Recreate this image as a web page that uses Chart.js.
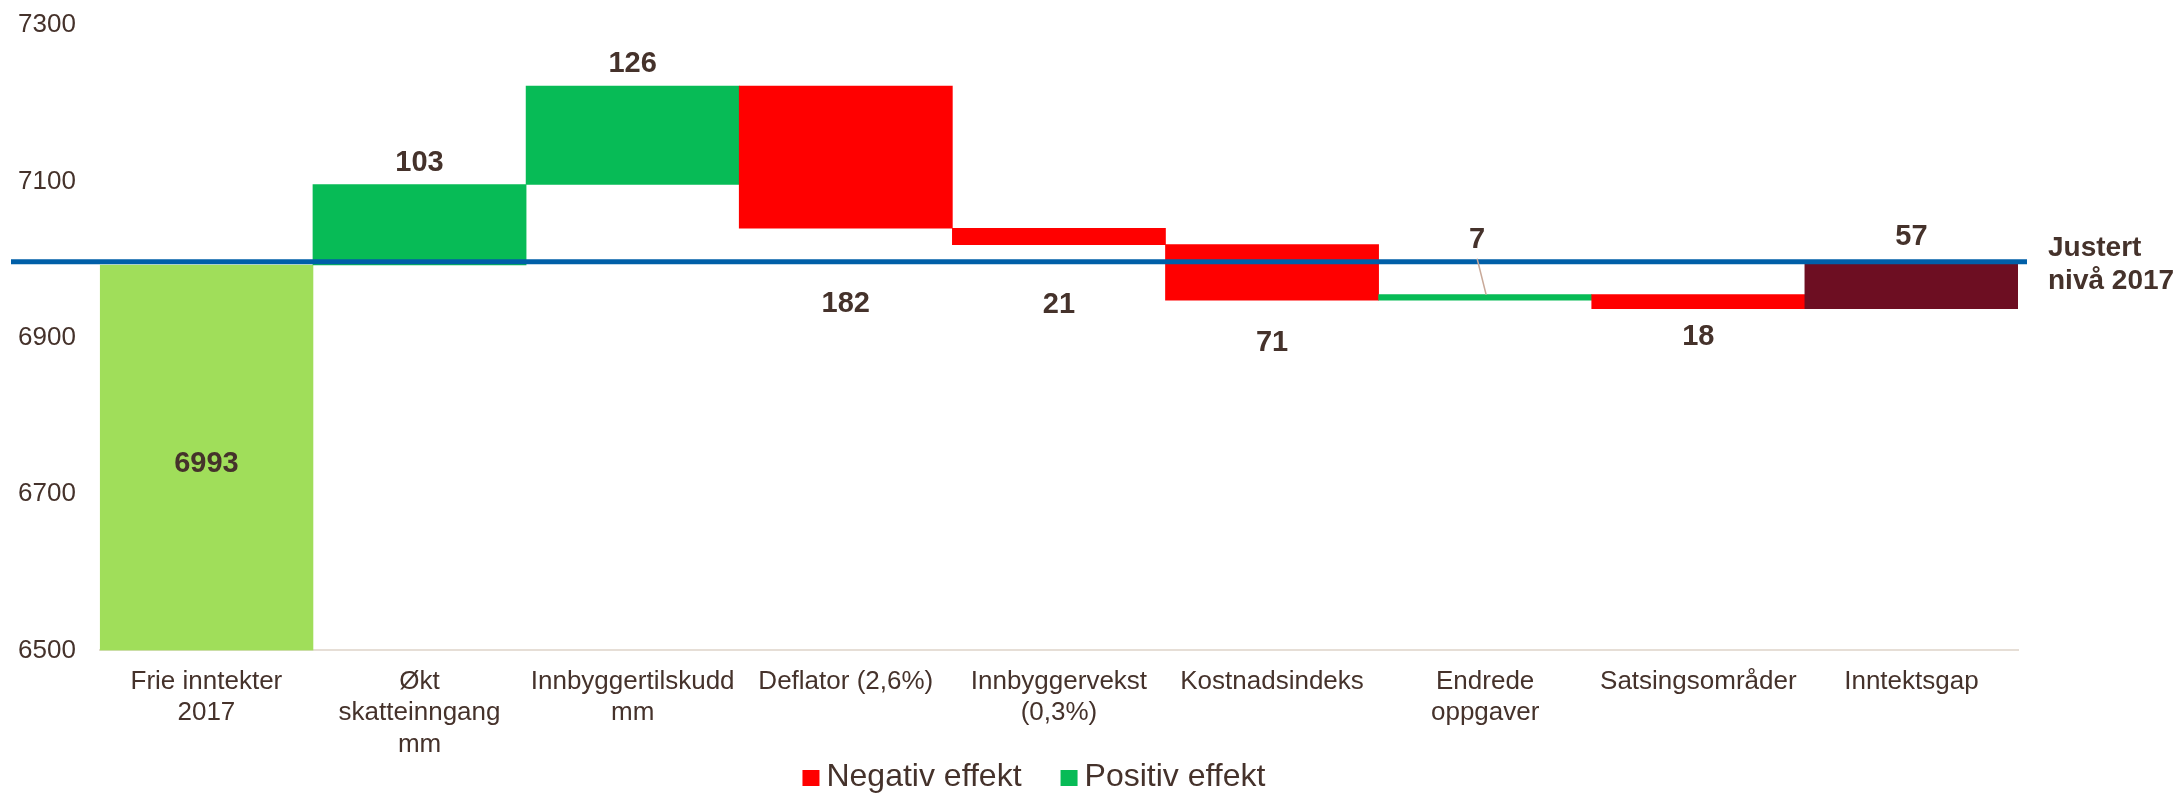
<!DOCTYPE html>
<html><head><meta charset="utf-8">
<script src="https://cdn.jsdelivr.net/npm/chart.js@4.4.1/dist/chart.umd.min.js"></script>
<style>html,body{margin:0;padding:0;background:#fff;}#wrap{width:2184px;height:794px;position:relative;}</style>
</head><body><div id="wrap"><canvas id="c" width="2184" height="794"></canvas></div>
<script>
// ---- data ----
const categories = [["Frie inntekter","2017"],["Økt","skatteinngang","mm"],["Innbyggertilskudd","mm"],"Deflator (2,6%)",["Innbyggervekst","(0,3%)"],"Kostnadsindeks",["Endrede","oppgaver"],"Satsingsområder","Inntektsgap"];
const startValue = 6993;
const changes = [103, 126, -182, -21, -71, 7, -18];
const gapValue = 57;
const adjustedLevel = 6997;
const adjustedLabel = ["Justert", "nivå 2017"];
const yTicks = [6500, 6700, 6900, 7100, 7300];
const legendNames = ["Negativ effekt", "Positiv effekt"];

// ---- styles ----
const FONT = "'Liberation Sans', Arial, sans-serif";
const colors = { start:'#A0DE5A', pos:'#07BB56', neg:'#FF0000', gap:'#6D0E22', line:'#005FA8', text:'#45322B', axis:'#E6DED6', leader:'#C9A999' };
const labelGap = [0, 21, 22, 76, 60, 43, 55, 28, 27];   // px distance of value label from bar edge
const labelDx  = [0, 0, 0, 0, 0, 0, -8, 0, 0];

// ---- build waterfall ranges ----
const yMin = yTicks[0], yMax = yTicks[yTicks.length-1];
const ranges = [[yMin, startValue]];
const valueLabels = [startValue];
const barColors = [colors.start];
let run = startValue;
changes.forEach(d => { ranges.push([run, run + d]); valueLabels.push(Math.abs(d)); barColors.push(d >= 0 ? colors.pos : colors.neg); run += d; });
ranges.push([run, run + gapValue]); valueLabels.push(gapValue); barColors.push(colors.gap);

const overlay = {
  id: 'overlay',
  afterDatasetsDraw(chart) {
    const ctx = chart.ctx, ya = chart.scales.y, area = chart.chartArea;
    const meta = chart.getDatasetMeta(0);
    ctx.save();
    // adjusted level line
    const ly = ya.getPixelForValue(adjustedLevel);
    ctx.strokeStyle = colors.line; ctx.lineWidth = 5;
    ctx.beginPath(); ctx.moveTo(ya.left - 5, ly); ctx.lineTo(area.right + 9, ly); ctx.stroke();
    // value labels
    ctx.fillStyle = colors.text; ctx.font = "bold 29px " + FONT;
    ctx.textAlign = 'center'; ctx.textBaseline = 'middle';
    meta.data.forEach((bar, i) => {
      const top = Math.min(bar.y, bar.base), bottom = Math.max(bar.y, bar.base);
      const x = bar.x + labelDx[i];
      let y;
      if (i === 0) y = (top + bottom) / 2 + 6;
      else {
        const up = ranges[i][1] >= ranges[i][0];
        y = up ? top - labelGap[i] : bottom + labelGap[i];
      }
      ctx.fillText(String(valueLabels[i]), x, y);
      if (labelDx[i] !== 0) {
        ctx.strokeStyle = colors.leader; ctx.lineWidth = 1.5;
        ctx.beginPath(); ctx.moveTo(x, y + 19); ctx.lineTo(bar.x + 1, top); ctx.stroke();
      }
    });
    // adjusted label
    ctx.font = "bold 28px " + FONT;
    ctx.textAlign = 'left';
    ctx.fillText(adjustedLabel[0], area.right + 30, ly - 14);
    ctx.fillText(adjustedLabel[1], area.right + 30, ly + 19);
    // legend
    ctx.font = "32px " + FONT;
    const items = [{t: legendNames[0], c: colors.neg}, {t: legendNames[1], c: colors.pos}];
    const box = 17, gap = 7, itemGap = 39;
    const widths = items.map(it => box + gap + ctx.measureText(it.t).width);
    const total = widths.reduce((a,b)=>a+b,0) + itemGap*(items.length-1);
    let x = (area.left + area.right)/2 - 25 - total/2;
    const cy = chart.height - 17;
    items.forEach((it, i) => {
      ctx.fillStyle = it.c; ctx.fillRect(x, cy - 7, box, box - 1);
      ctx.fillStyle = colors.text; ctx.textBaseline = 'middle';
      ctx.fillText(it.t, x + box + gap, cy);
      x += widths[i] + itemGap;
    });
    ctx.restore();
  }
};

new Chart(document.getElementById('c'), {
  type: 'bar',
  data: { labels: categories, datasets: [{ data: ranges, backgroundColor: barColors, borderWidth: 0, barPercentage: 1, categoryPercentage: 1 }] },
  options: {
    responsive: false, animation: false,
    layout: { padding: { left: 16, right: 166, top: 25, bottom: 18 } },
    plugins: { legend: { display: false }, tooltip: { enabled: false } },
    scales: {
      x: {
        grid: { display: false, drawTicks: false },
        border: { display: true, color: colors.axis, width: 2 },
        ticks: { color: colors.text, font: { family: FONT, size: 26, lineHeight: 1.2 }, padding: 16, autoSkip: false, maxRotation: 0, minRotation: 0 }
      },
      y: {
        min: yMin, max: yMax,
        grid: { display: false, drawTicks: false },
        border: { display: false },
        afterBuildTicks: s => { s.ticks = yTicks.map(v => ({ value: v })); },
        afterFit: s => { s.width -= s.options.ticks.padding; s.width += 2; s.paddingTop = 0; s.paddingBottom = 0; },
        ticks: { color: colors.text, font: { family: FONT, size: 26 }, padding: 24, callback: v => String(v) }
      }
    }
  },
  plugins: [overlay]
});
</script></body></html>
